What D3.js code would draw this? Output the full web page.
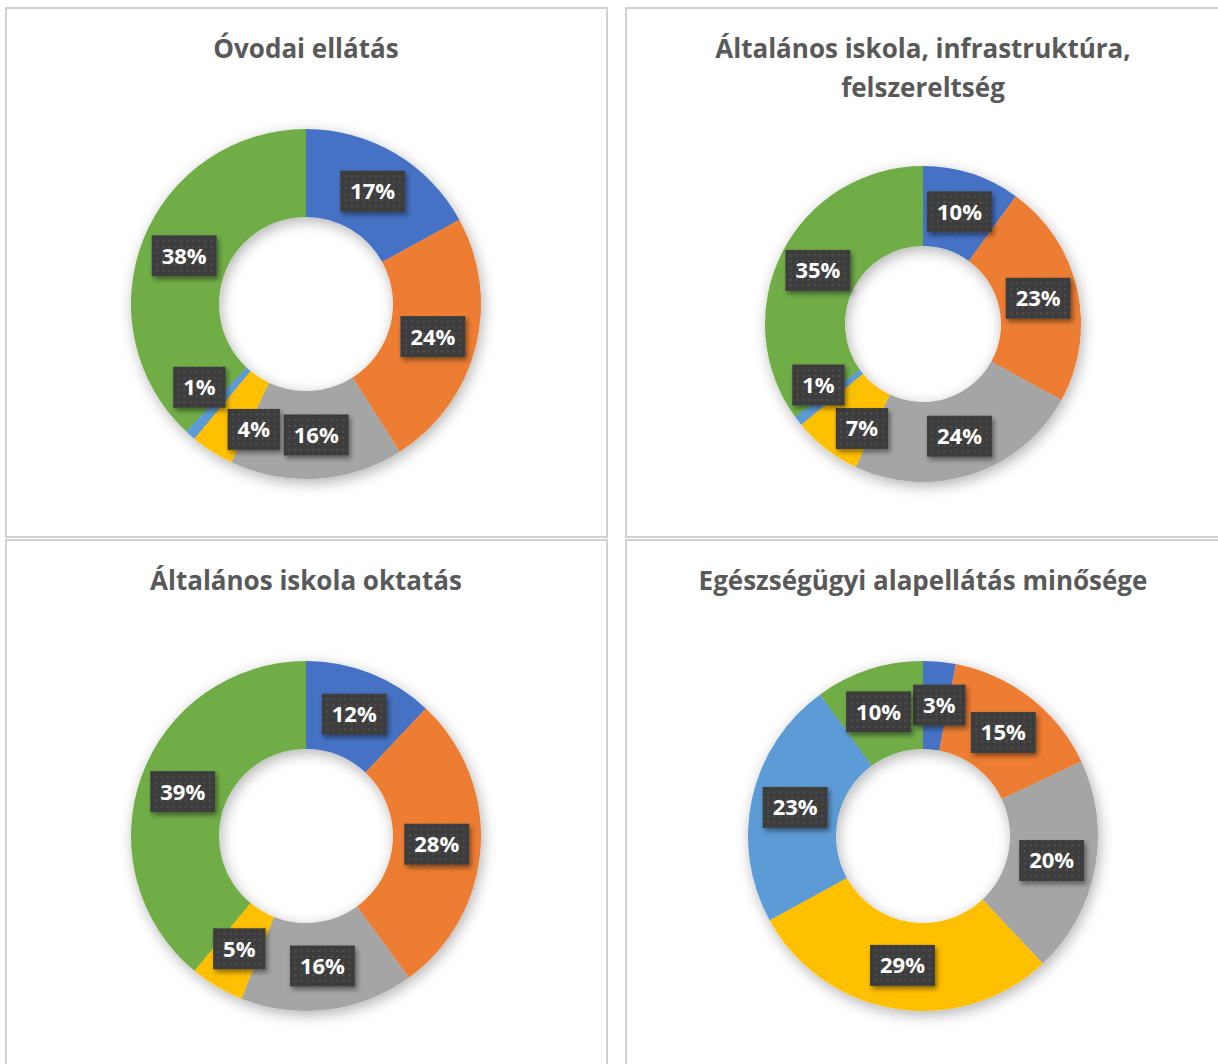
<!DOCTYPE html>
<html>
<head>
<meta charset="utf-8">
<script src="https://cdn.jsdelivr.net/npm/d3@7"></script>
<style>
  html, body { margin: 0; padding: 0; background: #ffffff; }
  svg { display: block; }
</style>
</head>
<body>
<svg id="chart" width="1218" height="1064"></svg>
<script>
// ---- data ----
const categories = ["A", "B", "C", "D", "E", "F"];
const chartTitles = [
  ["Óvodai ellátás"],
  ["Általános iskola, infrastruktúra,", "felszereltség"],
  ["Általános iskola oktatás"],
  ["Egészségügyi alapellátás minősége"]
];
const ovodaValues = [17, 24, 16, 4, 1, 38];
const iskolaInfraValues = [10, 23, 24, 7, 1, 35];
const iskolaOktatasValues = [12, 28, 16, 5, 0, 39];
const egeszsegValues = [3, 15, 20, 29, 23, 10];
const seriesValues = [ovodaValues, iskolaInfraValues, iskolaOktatasValues, egeszsegValues];
const colors = ["#4472C4", "#ED7D31", "#A5A5A5", "#FFC000", "#5B9BD5", "#70AD47"];

// ---- layout ----
const panels = [
  { x: 6,   y: 8,   w: 601, h: 529, cx: 306, cy: 304, ro: 175, ri: 87,  titleY: [58] },
  { x: 626, y: 8,   w: 600, h: 529, cx: 923, cy: 324, ro: 158, ri: 78,  titleY: [58, 97] },
  { x: 6,   y: 540, w: 601, h: 530, cx: 306, cy: 836, ro: 175, ri: 87,  titleY: [590] },
  { x: 626, y: 540, w: 600, h: 530, cx: 923, cy: 836, ro: 175, ri: 87,  titleY: [590] }
];

const svg = d3.select("#chart");
const defs = svg.append("defs");

const ringShadow = defs.append("filter").attr("id", "ringShadow")
  .attr("x", "-20%").attr("y", "-20%").attr("width", "140%").attr("height", "140%");
ringShadow.append("feDropShadow").attr("dx", 2).attr("dy", 4)
  .attr("stdDeviation", 7).attr("flood-color", "#000").attr("flood-opacity", 0.3);

const labelShadow = defs.append("filter").attr("id", "labelShadow")
  .attr("x", "-30%").attr("y", "-30%").attr("width", "160%").attr("height", "160%");
labelShadow.append("feDropShadow").attr("dx", 2).attr("dy", 3)
  .attr("stdDeviation", 2.5).attr("flood-color", "#000").attr("flood-opacity", 0.45);

const pat = defs.append("pattern").attr("id", "dots")
  .attr("patternUnits", "userSpaceOnUse").attr("width", 6).attr("height", 6);
pat.append("rect").attr("width", 6).attr("height", 6).attr("fill", "#3e3e3e");
pat.append("rect").attr("x", 2).attr("y", 2).attr("width", 2).attr("height", 2).attr("fill", "#505050");

const pie = d3.pie().sort(null).value(d => d);

panels.forEach((p, i) => {
  const g = svg.append("g");
  g.append("rect")
    .attr("x", p.x).attr("y", p.y).attr("width", p.w).attr("height", p.h)
    .attr("fill", "#fff").attr("stroke", "#c6c6c6").attr("stroke-width", 1.6);

  chartTitles[i].forEach((line, li) => {
    g.append("text")
      .attr("x", p.cx).attr("y", p.titleY[li])
      .attr("text-anchor", "middle")
      .attr("font-family", "'Open Sans', Lato, sans-serif")
      .attr("font-weight", "bold")
      .attr("font-size", 26)
      .attr("fill", "#595959")
      .text(line);
  });

  const data = categories.map((c, k) => ({ cat: c, value: seriesValues[i][k], color: colors[k] }));
  const arcs = pie(data.map(d => d.value)).map((a, k) => Object.assign(a, { d: data[k] }));
  const arc = d3.arc().innerRadius(p.ri).outerRadius(p.ro);

  const ring = g.append("g").attr("transform", `translate(${p.cx},${p.cy})`);
  ring.append("g").attr("filter", "url(#ringShadow)")
    .selectAll("path").data(arcs.filter(a => a.value > 0)).join("path")
    .attr("d", arc).attr("fill", a => a.d.color);

  // labels at the ring centroids
  const labels = arcs.filter(a => a.value > 0).map(a => {
    const [x, y] = arc.centroid(a);
    return { text: a.value + "%", x, y, w: 0, h: 41 };
  });
  const lg = ring.append("g");
  const nodes = labels.map(l => {
    const node = lg.append("g");
    const t = node.append("text")
      .attr("text-anchor", "middle")
      .attr("font-family", "'Open Sans', Lato, sans-serif")
      .attr("font-weight", "bold")
      .attr("font-size", 22)
      .attr("fill", "#ffffff")
      .attr("dy", "0.36em")
      .text(l.text);
    l.w = t.node().getComputedTextLength() + 20;
    node.insert("rect", "text")
      .attr("x", -l.w / 2).attr("y", -l.h / 2).attr("width", l.w).attr("height", l.h)
      .attr("fill", "url(#dots)").attr("filter", "url(#labelShadow)");
    return node;
  });
  // simple overlap resolution
  for (let it = 0; it < 80; it++) {
    let moved = false;
    for (let a = 0; a < labels.length; a++) {
      for (let b = a + 1; b < labels.length; b++) {
        const A = labels[a], B = labels[b];
        const ox = (A.w + B.w) / 2 + 2 - Math.abs(A.x - B.x);
        const oy = (A.h + B.h) / 2 + 2 - Math.abs(A.y - B.y);
        if (ox > 0 && oy > 0) {
          let dx = B.x - A.x, dy = B.y - A.y;
          const len = Math.hypot(dx, dy) || 1;
          dx /= len; dy /= len;
          A.x -= dx; A.y -= dy;
          B.x += dx; B.y += dy;
          moved = true;
        }
      }
    }
    if (!moved) break;
  }
  nodes.forEach((n, k) => n.attr("transform", `translate(${labels[k].x},${labels[k].y})`));
});
</script>
</body>
</html>
